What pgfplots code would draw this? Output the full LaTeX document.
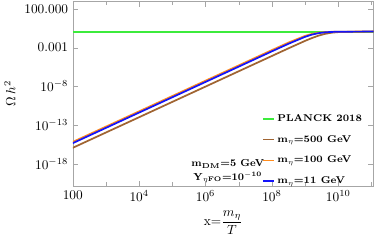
\documentclass[border=0pt]{standalone}
\usepackage{pgfplots}
\pgfplotsset{compat=1.18}
\definecolor{cgreen}{RGB}{60,235,60}
\definecolor{cbrown}{RGB}{160,100,50}
\definecolor{corange}{RGB}{255,140,30}
\definecolor{cblue}{RGB}{20,20,250}
\begin{document}
\begin{tikzpicture}
\begin{axis}[
  scale only axis,
  width=226pt, height=139pt,
  xmode=log, ymode=log,
  xmin=100, xmax=1.17e11,
  ymin=1.2e-21, ymax=1.05e3,
  axis line style={gray!70},
  tick style={gray!70},
  xtick={1e2,1e4,1e6,1e8,1e10},
  xticklabels={100,$10^{4}$,$10^{6}$,$10^{8}$,$10^{10}$},
  minor xtick={1e3,1e5,1e7,1e9,1e11},
  ytick={1e2,1e-3,1e-8,1e-13,1e-18},
  yticklabels={100.000,0.001,$10^{-8}$,$10^{-13}$,$10^{-18}$},
  minor ytick={},
  xlabel={x=$\displaystyle\frac{m_\eta}{T}$},
  ylabel={$\Omega\, h^2$},
  legend style={at={(0.975,0.412)}, anchor=north east, draw=none, fill=none,
    font=\fontsize{7.4}{9}\selectfont\bfseries, row sep=5pt, inner sep=1pt},
  legend cell align=left,
  legend image code/.code={\draw[#1] (0pt,0pt) -- (8pt,0pt);},
]
\addplot[cgreen, line width=1.5pt] coordinates {(100,0.12) (1e4,0.12) (1e6,0.12) (1e8,0.12) (1e10,0.12) (1.17e11,0.12)};
\addlegendentry{PLANCK 2018}
\addplot[cbrown, line width=1.3pt] coordinates {
(1e2,1.12e-16) (1e3,1.07e-14) (1e4,1.02e-12) (1e5,9.77e-11) (1e6,9.33e-9)
(1e7,8.91e-7) (1e8,8.51e-5) (3.162e8,8.26e-4) (1e9,0.00762) (1.585e9,0.0173)
(2.512e9,0.0355) (3.981e9,0.0613) (6.31e9,0.0867) (1e10,0.104) (3.162e10,0.118) (1.17e11,0.1199)};
\addlegendentry{m$_\eta$=500 GeV}
\addplot[corange, line width=1.3pt] coordinates {
(1e2,6.5e-16) (1e3,6.2e-14) (1e4,5.9e-12) (1e5,5.6e-10) (1e6,5.4e-8)
(1e7,5.1e-6) (1e8,4.9e-4) (3.162e8,4.6e-3) (1e9,0.034) (1.585e9,0.059)
(2.512e9,0.085) (3.981e9,0.1025) (6.31e9,0.1125) (1e10,0.1168) (3.162e10,0.1197) (1.17e11,0.12)};
\addlegendentry{m$_\eta$=100 GeV}
\addplot[cblue, line width=1.3pt] coordinates {
(1e2,4.47e-16) (1e3,4.27e-14) (1e4,4.07e-12) (1e5,3.89e-10) (1e6,3.72e-8)
(1e7,3.55e-6) (1e8,3.39e-4) (3.162e8,3.22e-3) (1e9,0.0255) (1.585e9,0.0482)
(2.512e9,0.0751) (3.981e9,0.0968) (6.31e9,0.1094) (1e10,0.1155) (3.162e10,0.1195) (1.17e11,0.12)};
\addlegendentry{m$_\eta$=11 GeV}
\node[font=\fontsize{7.6}{9}\selectfont\bfseries, align=center, inner sep=0pt] at (rel axis cs:0.515,0.08)
  {m\textsubscript{DM}=5 GeV\\[1pt] Y$_{\eta\mathbf{FO}}$=10$^{\mathbf{-10}}$};
\end{axis}
\end{tikzpicture}
\end{document}
